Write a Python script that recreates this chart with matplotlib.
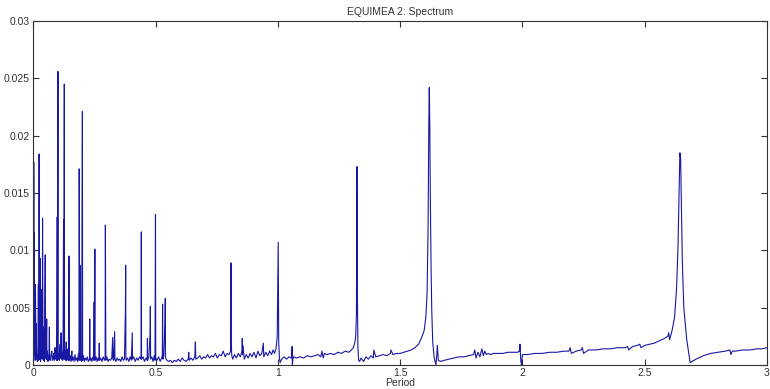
import matplotlib
matplotlib.use("Agg")
import matplotlib.pyplot as plt

plt.rcParams['font.family'] = ['Liberation Sans', 'DejaVu Sans']

# Spectrum (period, power)
period = [
    0.000, 0.001, 0.002, 0.003, 0.004, 0.006, 0.007, 0.008, 0.010, 0.011, 0.013, 0.014,
    0.016, 0.018, 0.020, 0.021, 0.023, 0.024, 0.025, 0.027, 0.028, 0.029, 0.031, 0.032,
    0.034, 0.036, 0.037, 0.039, 0.040, 0.042, 0.043, 0.045, 0.048, 0.049, 0.051, 0.052,
    0.054, 0.055, 0.057, 0.059, 0.061, 0.063, 0.065, 0.066, 0.069, 0.072, 0.075, 0.077,
    0.080, 0.083, 0.085, 0.088, 0.089, 0.092, 0.095, 0.097, 0.098, 0.100, 0.101, 0.104,
    0.106, 0.109, 0.110, 0.113, 0.114, 0.117, 0.119, 0.121, 0.123, 0.124, 0.126, 0.127,
    0.130, 0.132, 0.134, 0.135, 0.138, 0.141, 0.142, 0.144, 0.145, 0.146, 0.147, 0.150,
    0.153, 0.157, 0.158, 0.162, 0.166, 0.170, 0.173, 0.177, 0.180, 0.184, 0.186, 0.187,
    0.189, 0.190, 0.191, 0.194, 0.197, 0.200, 0.201, 0.204, 0.208, 0.212, 0.216, 0.220,
    0.224, 0.229, 0.230, 0.231, 0.235, 0.239, 0.243, 0.247, 0.248, 0.249, 0.251, 0.252,
    0.256, 0.260, 0.264, 0.268, 0.269, 0.270, 0.275, 0.280, 0.285, 0.290, 0.293, 0.294,
    0.295, 0.296, 0.300, 0.305, 0.310, 0.315, 0.320, 0.324, 0.325, 0.328, 0.332, 0.333,
    0.337, 0.342, 0.347, 0.352, 0.357, 0.362, 0.367, 0.372, 0.376, 0.377, 0.378, 0.379,
    0.384, 0.390, 0.395, 0.400, 0.404, 0.405, 0.410, 0.416, 0.422, 0.428, 0.434, 0.440,
    0.441, 0.442, 0.448, 0.454, 0.460, 0.465, 0.466, 0.467, 0.472, 0.477, 0.478, 0.479,
    0.484, 0.489, 0.494, 0.497, 0.498, 0.499, 0.500, 0.505, 0.512, 0.518, 0.524, 0.527,
    0.528, 0.529, 0.533, 0.538, 0.539, 0.540, 0.546, 0.553, 0.560, 0.568, 0.576, 0.584,
    0.592, 0.600, 0.608, 0.616, 0.624, 0.633, 0.635, 0.637, 0.645, 0.652, 0.660, 0.662,
    0.664, 0.672, 0.680, 0.688, 0.696, 0.704, 0.712, 0.720, 0.728, 0.736, 0.744, 0.752,
    0.760, 0.768, 0.776, 0.784, 0.792, 0.800, 0.806, 0.807, 0.808, 0.809, 0.811, 0.815,
    0.822, 0.830, 0.838, 0.846, 0.853, 0.854, 0.855, 0.857, 0.862, 0.870, 0.878, 0.886,
    0.894, 0.902, 0.910, 0.918, 0.926, 0.934, 0.940, 0.942, 0.950, 0.958, 0.966, 0.974,
    0.980, 0.986, 0.992, 0.997, 1.000, 1.001, 1.003, 1.006, 1.009, 1.015, 1.025, 1.035,
    1.045, 1.055, 1.058, 1.059, 1.061, 1.064, 1.075, 1.090, 1.105, 1.120, 1.135, 1.150,
    1.165, 1.175, 1.180, 1.185, 1.190, 1.200, 1.215, 1.230, 1.245, 1.260, 1.275, 1.290,
    1.300, 1.308, 1.314, 1.318, 1.321, 1.323, 1.325, 1.327, 1.330, 1.334, 1.340, 1.350,
    1.360, 1.370, 1.380, 1.390, 1.392, 1.400, 1.415, 1.430, 1.445, 1.460, 1.462, 1.470,
    1.485, 1.500, 1.515, 1.530, 1.545, 1.560, 1.575, 1.588, 1.598, 1.605, 1.610, 1.614,
    1.617, 1.619, 1.621, 1.623, 1.626, 1.629, 1.633, 1.639, 1.646, 1.650, 1.652, 1.656,
    1.665, 1.680, 1.700, 1.720, 1.740, 1.760, 1.780, 1.800, 1.805, 1.810, 1.818, 1.826,
    1.834, 1.840, 1.846, 1.852, 1.860, 1.870, 1.880, 1.900, 1.920, 1.940, 1.960, 1.980,
    1.988, 1.990, 1.993, 1.996, 2.000, 2.020, 2.050, 2.080, 2.110, 2.140, 2.170, 2.190,
    2.195, 2.200, 2.220, 2.240, 2.245, 2.250, 2.270, 2.300, 2.330, 2.360, 2.390, 2.420,
    2.430, 2.435, 2.450, 2.470, 2.480, 2.485, 2.500, 2.520, 2.540, 2.560, 2.580, 2.595,
    2.598, 2.602, 2.612, 2.622, 2.630, 2.636, 2.641, 2.644, 2.647, 2.650, 2.654, 2.660,
    2.672, 2.686, 2.710, 2.740, 2.770, 2.800, 2.830, 2.848, 2.853, 2.858, 2.870, 2.900,
    2.930, 2.960, 2.980, 3.000,
]
power = [
    0.0005, 0.0177, 0.0090, 0.0115, 0.0008, 0.0030, 0.0004, 0.0070, 0.0006, 0.0036, 0.0005, 0.0009,
    0.0003, 0.0009, 0.0070, 0.0004, 0.0184, 0.0093, 0.0005, 0.0012, 0.0093, 0.0003, 0.0030, 0.0006,
    0.0066, 0.0005, 0.0128, 0.0010, 0.0033, 0.0004, 0.0009, 0.0003, 0.0096, 0.0006, 0.0040, 0.0005,
    0.0040, 0.0005, 0.0012, 0.0003, 0.0008, 0.0004, 0.0033, 0.0005, 0.0004, 0.0009, 0.0012, 0.0004,
    0.0006, 0.0010, 0.0004, 0.0015, 0.0005, 0.0008, 0.0004, 0.0129, 0.0004, 0.0256, 0.0005, 0.0010,
    0.0004, 0.0018, 0.0006, 0.0028, 0.0005, 0.0011, 0.0004, 0.0020, 0.0127, 0.0005, 0.0245, 0.0005,
    0.0012, 0.0004, 0.0020, 0.0004, 0.0007, 0.0014, 0.0004, 0.0009, 0.0095, 0.0050, 0.0004, 0.0008,
    0.0003, 0.0012, 0.0004, 0.0007, 0.0003, 0.0009, 0.0004, 0.0006, 0.0003, 0.0010, 0.0004, 0.0171,
    0.0006, 0.0087, 0.0004, 0.0008, 0.0003, 0.0221, 0.0004, 0.0008, 0.0003, 0.0006, 0.0004, 0.0007,
    0.0003, 0.0005, 0.0040, 0.0004, 0.0006, 0.0003, 0.0007, 0.0004, 0.0055, 0.0006, 0.0101, 0.0004,
    0.0007, 0.0003, 0.0006, 0.0004, 0.0019, 0.0004, 0.0006, 0.0003, 0.0007, 0.0004, 0.0006, 0.0122,
    0.0063, 0.0004, 0.0007, 0.0003, 0.0005, 0.0004, 0.0006, 0.0024, 0.0005, 0.0004, 0.0029, 0.0005,
    0.0003, 0.0006, 0.0004, 0.0005, 0.0003, 0.0007, 0.0004, 0.0005, 0.0048, 0.0087, 0.0006, 0.0004,
    0.0006, 0.0003, 0.0007, 0.0004, 0.0028, 0.0005, 0.0007, 0.0003, 0.0006, 0.0004, 0.0007, 0.0005,
    0.0116, 0.0005, 0.0007, 0.0003, 0.0006, 0.0004, 0.0023, 0.0004, 0.0007, 0.0027, 0.0051, 0.0005,
    0.0007, 0.0003, 0.0008, 0.0004, 0.0080, 0.0131, 0.0006, 0.0004, 0.0007, 0.0003, 0.0006, 0.0008,
    0.0053, 0.0005, 0.0008, 0.0037, 0.0058, 0.0006, 0.0004, 0.0003, 0.0004, 0.0002, 0.0004, 0.0003,
    0.0005, 0.0003, 0.0006, 0.0004, 0.0003, 0.0005, 0.0011, 0.0004, 0.0006, 0.0004, 0.0007, 0.0020,
    0.0005, 0.0006, 0.0008, 0.0005, 0.0007, 0.0006, 0.0009, 0.0006, 0.0008, 0.0007, 0.0010, 0.0006,
    0.0009, 0.0008, 0.0012, 0.0007, 0.0010, 0.0009, 0.0012, 0.0073, 0.0089, 0.0018, 0.0008, 0.0005,
    0.0009, 0.0006, 0.0010, 0.0007, 0.0012, 0.0023, 0.0009, 0.0017, 0.0005, 0.0009, 0.0006, 0.0010,
    0.0007, 0.0011, 0.0006, 0.0012, 0.0008, 0.0010, 0.0019, 0.0007, 0.0011, 0.0008, 0.0012, 0.0009,
    0.0013, 0.0010, 0.0014, 0.0025, 0.0093, 0.0107, 0.0020, 0.0006, 0.0002, 0.0005, 0.0007, 0.0005,
    0.0007, 0.0006, 0.0016, 0.0000, 0.0005, 0.0007, 0.0006, 0.0007, 0.0006, 0.0008, 0.0007, 0.0008,
    0.0009, 0.0007, 0.0012, 0.0006, 0.0010, 0.0009, 0.0010, 0.0009, 0.0011, 0.0010, 0.0012, 0.0011,
    0.0013, 0.0015, 0.0019, 0.0025, 0.0045, 0.0173, 0.0060, 0.0015, 0.0004, 0.0003, 0.0006, 0.0003,
    0.0007, 0.0005, 0.0008, 0.0006, 0.0013, 0.0007, 0.0008, 0.0009, 0.0008, 0.0010, 0.0013, 0.0009,
    0.0010, 0.0010, 0.0011, 0.0012, 0.0013, 0.0015, 0.0018, 0.0024, 0.0030, 0.0042, 0.0062, 0.0120,
    0.0210, 0.0242, 0.0210, 0.0150, 0.0090, 0.0048, 0.0020, 0.0006, 0.0000, 0.0010, 0.0017, 0.0004,
    0.0003, 0.0004, 0.0005, 0.0006, 0.0007, 0.0007, 0.0008, 0.0009, 0.0013, 0.0006, 0.0011, 0.0007,
    0.0014, 0.0008, 0.0012, 0.0009, 0.0010, 0.0009, 0.0010, 0.0010, 0.0010, 0.0011, 0.0011, 0.0011,
    0.0012, 0.0018, 0.0004, 0.0000, 0.0009, 0.0009, 0.0010, 0.0010, 0.0011, 0.0011, 0.0012, 0.0012,
    0.0015, 0.0010, 0.0012, 0.0013, 0.0015, 0.0010, 0.0013, 0.0013, 0.0014, 0.0014, 0.0015, 0.0015,
    0.0016, 0.0013, 0.0016, 0.0017, 0.0018, 0.0015, 0.0017, 0.0018, 0.0019, 0.0021, 0.0023, 0.0025,
    0.0028, 0.0022, 0.0030, 0.0041, 0.0065, 0.0100, 0.0155, 0.0185, 0.0180, 0.0140, 0.0090, 0.0050,
    0.0022, 0.0002, 0.0005, 0.0008, 0.0010, 0.0011, 0.0012, 0.0013, 0.0009, 0.0012, 0.0012, 0.0013,
    0.0013, 0.0014, 0.0014, 0.0015,
]

title_text = "EQUIMEA 2: Spectrum"
x_label = "Period"
x_ticks = [0, 0.5, 1, 1.5, 2, 2.5, 3]
x_tick_labels = ["0", "0.5", "1", "1.5", "2", "2.5", "3"]
y_ticks = [0, 0.005, 0.01, 0.015, 0.02, 0.025, 0.03]
y_tick_labels = ["0", "0.005", "0.01", "0.015", "0.02", "0.025", "0.03"]

fig = plt.figure(figsize=(7.7, 3.89), dpi=100)
ax = fig.add_axes([0.0435, 0.062, 0.9525, 0.884])
ax.plot(period, power, color="#1818a4", linewidth=0.8)

ax.set_xlim(0, 3)
ax.set_ylim(0, 0.03)
ax.set_xticks(x_ticks)
ax.set_xticklabels(x_tick_labels)
ax.set_yticks(y_ticks)
ax.set_yticklabels(y_tick_labels)
ax.tick_params(direction="in", length=4, width=0.8, top=True, right=True,
               labelsize=7.5, colors="#333333", pad=2.5)
for s in ax.spines.values():
    s.set_color("#333333")
    s.set_linewidth(0.8)
ax.set_title(title_text, fontsize=7.5, color="#333333", pad=4)
ax.set_xlabel(x_label, fontsize=7.5, color="#333333", labelpad=-0.5)

fig.savefig("out.png", dpi=100)
